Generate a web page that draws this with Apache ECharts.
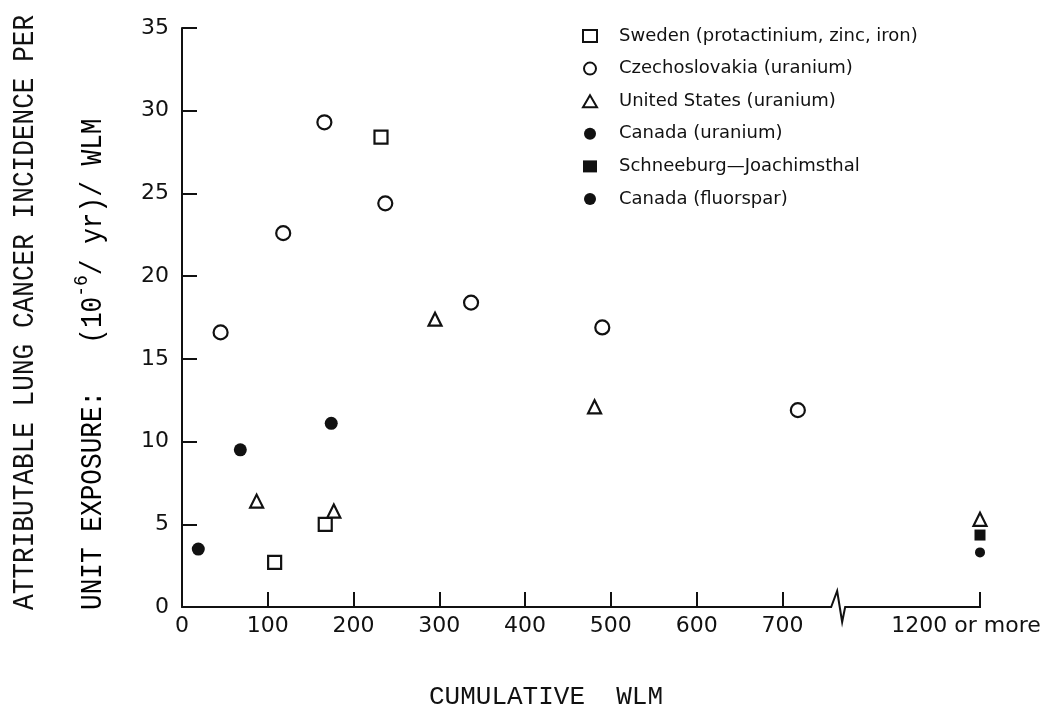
<!DOCTYPE html>
<html>
<head>
<meta charset="utf-8">
<title>Attributable lung cancer incidence vs cumulative WLM</title>
<script src="https://cdn.jsdelivr.net/npm/echarts@6.0.0/dist/echarts.min.js"></script>
<style>
	html, body { margin: 0; padding: 0; background: #fff; }
	#chart { width: 1043px; height: 711px; }
</style>
</head>
<body>
<div id="chart"></div>
<script>
// tick positions and labels
var xTicks = [0, 100, 200, 300, 400, 500, 600, 700, 1200];
var yTicks = [0, 5, 10, 15, 20, 25, 30, 35];
var breakStart = 765, breakEnd = 1190;

// [cumulative WLM, incidence per WLM]
var sweden = [[386, 35.2], [232, 28.4], [167, 5.0], [108, 2.7]];
var czech = [[166, 29.3], [237, 24.4], [118, 22.6], [45, 16.6], [337, 18.4], [490, 16.9], [718, 11.9]];
var usa = [[295, 17.4], [87, 6.4], [177, 5.8], [481, 12.1], [1200, 5.3]];
var canadaU = [[19, 3.5], [68, 9.5], [174, 11.1]];
var schneeburg = [[1200, 4.35]];
var canadaF = [[1200, 3.3]];

var names = ['Sweden (protactinium, zinc, iron)', 'Czechoslovakia (uranium)', 'United States (uranium)',
	'Canada (uranium)', 'Schneeburg\u2014Joachimsthal', 'Canada (fluorspar)'];

;(function(){
	var chart = echarts.init(document.getElementById('chart')),
		ink = '#111',
		mono = '"Liberation Mono", "DejaVu Sans Mono", monospace',
		sans = '"DejaVu Sans", sans-serif';

	function hollow(name, symbol, size, data) {
		return {
			name: name, type: 'scatter', symbol: symbol, symbolSize: size, data: data,
			itemStyle: { color: '#fff', borderColor: ink, borderWidth: 2.2, opacity: 1 }
		};
	}
	function solid(name, symbol, size, data) {
		return {
			name: name, type: 'scatter', symbol: symbol, symbolSize: size, data: data,
			itemStyle: { color: ink, opacity: 1 }
		};
	}

	var option = {
		backgroundColor: '#fff',
		animation: false,
		grid: { left: 182, right: 63, top: 28, bottom: 104, outerBoundsMode: 'none' },
		legend: {
			orient: 'vertical',
			left: 582, top: 27, padding: 0,
			itemWidth: 14, itemHeight: 12, itemGap: 14.6,
			textStyle: { fontFamily: sans, fontSize: 18, color: ink, lineHeight: 18, padding: [0, 0, 0, 17] },
			data: names
		},
		xAxis: {
			type: 'value', min: 0, max: 1200, interval: 100,
			breaks: [{ start: breakStart, end: breakEnd, gap: '16.7%' }],
			breakArea: {
				show: false,
				itemStyle: { color: 'rgba(0,0,0,0)', borderColor: 'rgba(0,0,0,0)' }
			},
			splitLine: { show: false },
			axisLine: { lineStyle: { color: ink, width: 2 } },
			axisTick: { inside: true, length: 15, customValues: xTicks, lineStyle: { color: ink, width: 2 } },
			axisLabel: {
				customValues: xTicks, margin: 8,
				fontFamily: sans, fontSize: 22, color: ink,
				formatter: function (v) { return v === 1200 ? '{m|1200 or more}' : String(v); },
				rich: { m: { fontFamily: sans, fontSize: 22, color: ink, padding: [0, 28, 0, 0] } }
			}
		},
		yAxis: {
			type: 'value', min: 0, max: 35, interval: 5,
			splitLine: { show: false },
			axisLine: { lineStyle: { color: ink, width: 2 } },
			axisTick: { inside: true, length: 15, lineStyle: { color: ink, width: 2 } },
			axisLabel: { margin: 13, fontFamily: sans, fontSize: 22, color: ink }
		},
		series: [
			hollow(names[0], 'rect', 13, sweden),
			hollow(names[1], 'circle', 14, czech),
			hollow(names[2], 'triangle', 13, usa),
			solid(names[3], 'circle', 13, canadaU),
			solid(names[4], 'rect', 11, schneeburg),
			solid(names[5], 'circle', 10, canadaF)
		]
	};
	chart.setOption(option);

	// axis titles, the break squiggle, and the axis line across the break
	var bx = chart.convertToPixel({ xAxisIndex: 0 }, breakStart),
		ex = chart.convertToPixel({ xAxisIndex: 0 }, 1200),
		by = chart.convertToPixel({ yAxisIndex: 0 }, 0);
	chart.setOption({
		graphic: [
			{
				type: 'text', x: 25, y: 610, rotation: Math.PI / 2, scaleX: 0.9,
				style: {
					text: 'ATTRIBUTABLE LUNG CANCER INCIDENCE PER',
					font: '29px ' + mono, fill: ink, textAlign: 'left', textVerticalAlign: 'middle'
				}
			},
			{
				type: 'text', x: 90, y: 610, rotation: Math.PI / 2, scaleX: 0.9,
				style: {
					text: '{a|UNIT EXPOSURE:   (10}{s|-6}{a|/ yr)/ WLM}',
					textAlign: 'left', textVerticalAlign: 'middle',
					rich: {
						a: { fontFamily: mono, fontSize: 29, color: ink, lineHeight: 36, verticalAlign: 'bottom' },
						s: { fontFamily: mono, fontSize: 20, color: ink, lineHeight: 36, verticalAlign: 'top' }
					}
				}
			},
			{
				type: 'text', x: 429, y: 697,
				style: {
					text: 'CUMULATIVE  WLM',
					font: '26px ' + mono, fill: ink, textAlign: 'left', textVerticalAlign: 'middle'
				}
			},
			{
				type: 'line', z: 99,
				shape: { x1: bx, y1: by, x2: ex + 1, y2: by },
				style: { stroke: ink, lineWidth: 2 }
			},
			{
				type: 'rect', z: 100,
				shape: { x: bx - 9, y: by - 3, width: 18, height: 6 },
				style: { fill: '#fff' }
			},
			{
				type: 'polyline', z: 101,
				shape: { points: [[bx - 10, by], [bx - 7, by], [bx - 1, by - 16], [bx + 4, by + 15], [bx + 7, by], [bx + 10, by]] },
				style: { stroke: ink, lineWidth: 2, fill: null }
			}
		]
	});
}());
</script>
</body>
</html>
